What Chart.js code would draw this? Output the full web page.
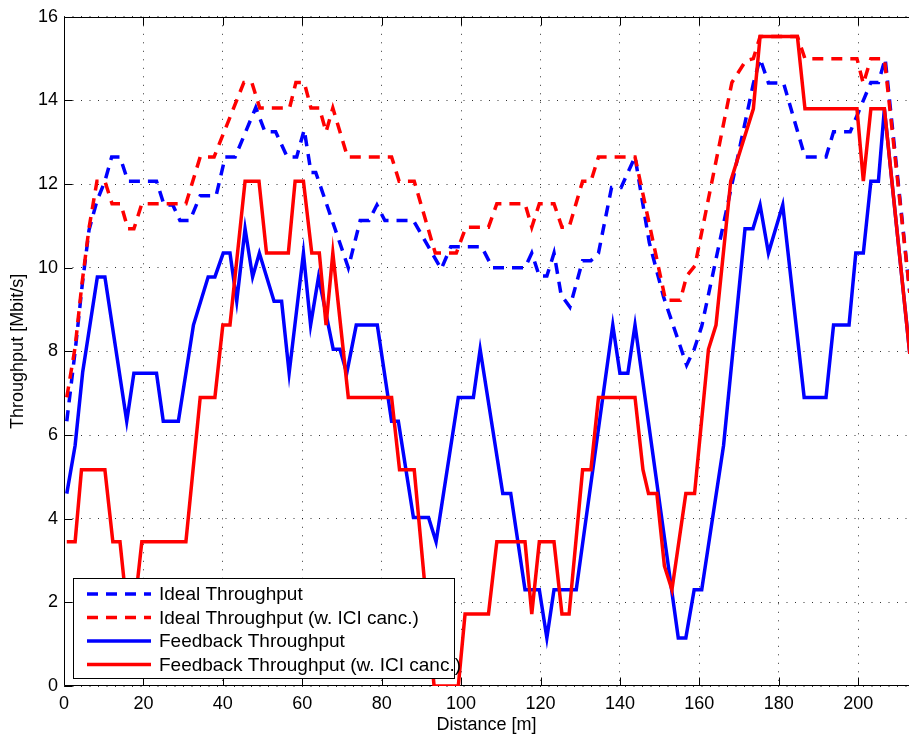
<!DOCTYPE html>
<html>
<head>
<meta charset="utf-8">
<title>Throughput vs distance</title>
<script src="https://cdn.jsdelivr.net/npm/chart.js@4.4.1/dist/chart.umd.min.js"></script>
<style>
  html, body { margin: 0; padding: 0; background: #fff; }
</style>
</head>
<body>
<canvas id="chart" width="909" height="743"></canvas>
<script>
// Throughput over distance, 4 series

const X_MAX = 212.8;
const Y_MAX = 16;

// Ideal Throughput (blue, dashed)
const idealDist = [0.7, 2.8, 4.6, 6.3, 8.3, 10.3, 12.0, 14.1, 16.1, 23.3, 25.2, 27.4, 29.2, 31.7, 34.3, 38.3,
  40.6, 43.1, 48.3, 50.6, 53.3, 56.2, 58.6, 60.5, 62.2, 63.4, 71.6, 74.6, 76.8, 78.8, 80.8, 88.0, 95.0,
  97.4, 105.2, 107.9, 116.1, 117.8, 119.7, 121.6, 123.4, 125.2, 127.4, 130.6, 132.7, 134.6, 137.9, 140.3,
  143.8, 147.4, 151.0, 156.8, 158.7, 160.6, 173.6, 175.3, 177.4, 181.2, 186.6, 191.9, 193.8, 198.0, 203.2,
  205.1, 206.8, 213.0];
const idealTput = [6.33, 8.0, 9.6, 10.9, 11.6, 12.07, 12.65, 12.65, 12.07, 12.07, 11.5, 11.5, 11.13, 11.13, 11.72, 11.72,
  12.65, 12.65, 13.83, 13.25, 13.25, 12.65, 12.65, 13.3, 12.28, 12.28, 10.0, 11.13, 11.13, 11.5, 11.13, 11.13, 9.97,
  10.5, 10.5, 10.0, 10.0, 10.35, 9.8, 9.8, 10.35, 9.35, 9.06, 10.17, 10.17, 10.35, 11.92, 11.92,
  12.65, 10.6, 9.3, 7.67, 8.05, 8.6, 14.4, 15.0, 14.42, 14.42, 12.65, 12.65, 13.25, 13.25, 14.43,
  14.43, 15.0, 9.4];

// Ideal Throughput (w. ICI canc.) (red, dashed)
const idealIciDist = [0.7, 2.8, 4.5, 6.3, 8.3, 10.3, 12.1, 14.3, 16.1, 17.6, 19.6, 30.7, 34.3, 37.8, 45.3, 47.3,
  49.3, 56.8, 58.4, 60.5, 62.2, 64.3, 66.0, 67.7, 71.4, 82.5, 84.4, 88.2, 93.5, 98.8, 101.2, 106.9, 109.0,
  116.1, 117.8, 119.7, 123.4, 125.4, 127.2, 130.6, 132.7, 134.6, 143.8, 151.5, 155.2, 156.8, 158.9, 168.2,
  171.7, 173.6, 175.3, 184.7, 186.6, 199.7, 201.3, 203.2, 206.6, 213.0];
const idealIciTput = [6.9, 8.1, 9.6, 10.95, 12.07, 12.07, 11.53, 11.53, 10.93, 10.93, 11.53, 11.53, 12.65, 12.65, 14.43, 14.43,
  13.82, 13.82, 14.43, 14.43, 13.82, 13.82, 13.25, 13.82, 12.65, 12.65, 12.07, 12.07, 10.35, 10.35, 10.97, 10.97, 11.53,
  11.53, 10.97, 11.53, 11.53, 10.97, 10.97, 12.07, 12.07, 12.65, 12.65, 9.22, 9.22, 9.8, 10.05, 14.43,
  14.95, 15.0, 15.53, 15.53, 15.0, 15.0, 14.4, 15.0, 15.0, 9.4];

// Feedback Throughput (blue, solid)
const fbDist = [0.7, 2.8, 4.7, 8.4, 10.3, 15.8, 17.6, 23.3, 25.0, 28.8, 32.6, 36.3, 38.0, 40.1, 41.8, 43.5,
  45.6, 47.5, 49.2, 52.9, 54.8, 56.7, 60.3, 62.1, 64.1, 67.8, 69.5, 71.2, 73.6, 78.9, 82.5, 84.2, 88.0,
  91.8, 93.7, 99.3, 103.1, 104.8, 110.5, 112.5, 116.1, 119.7, 121.6, 123.4, 129.0, 138.2, 140.0, 142.0,
  143.8, 154.7, 156.6, 158.7, 160.6, 166.1, 171.5, 173.5, 175.3, 177.4, 181.0, 186.4, 191.9, 193.8, 197.7,
  199.4, 201.3, 203.2, 205.1, 206.6, 213.0];
const fbTput = [4.6, 5.75, 7.5, 9.78, 9.78, 6.33, 7.48, 7.48, 6.33, 6.33, 8.63, 9.78, 9.78, 10.35, 10.35, 9.2,
  10.93, 9.78, 10.35, 9.2, 9.2, 7.48, 10.35, 8.63, 9.78, 8.05, 8.05, 7.48, 8.63, 8.63, 6.33, 6.33, 4.03,
  4.03, 3.45, 6.9, 6.9, 8.05, 4.6, 4.6, 2.3, 2.3, 1.15, 2.3, 2.3, 8.63, 7.48, 7.48,
  8.63, 1.15, 1.15, 2.3, 2.3, 5.75, 10.93, 10.93, 11.5, 10.35, 11.5, 6.9, 6.9, 8.63, 8.63,
  10.35, 10.35, 12.07, 12.07, 13.8, 7.94];

// Feedback Throughput (w. ICI canc.) (red, solid)
const fbIciDist = [0.7, 2.8, 4.4, 10.3, 12.3, 14.1, 16.0, 17.6, 19.6, 30.7, 34.3, 38.0, 40.0, 41.8, 45.6, 49.1,
  51.0, 56.5, 58.2, 60.3, 62.4, 64.3, 66.0, 67.7, 71.6, 82.5, 84.5, 88.2, 93.2, 99.3, 101.0, 106.9, 109.0,
  116.1, 117.8, 119.7, 123.4, 125.4, 127.2, 130.6, 132.7, 134.6, 143.8, 145.8, 147.2, 149.3, 151.2, 153.1,
  156.6, 158.8, 162.3, 164.2, 167.9, 173.6, 175.3, 184.7, 186.6, 199.7, 201.3, 203.2, 206.6, 213.0];
const fbIciTput = [3.45, 3.45, 5.17, 5.17, 3.45, 3.45, 1.72, 1.72, 3.45, 3.45, 6.9, 6.9, 8.63, 8.63, 12.07, 12.07,
  10.35, 10.35, 12.07, 12.07, 10.35, 10.35, 8.63, 10.35, 6.9, 6.9, 5.17, 5.17, 0, 0, 1.72, 1.72, 3.45,
  3.45, 1.72, 3.45, 3.45, 1.72, 1.72, 5.17, 5.17, 6.9, 6.9, 5.17, 4.6, 4.6, 2.87, 2.3,
  4.6, 4.6, 8.05, 8.63, 12.07, 13.8, 15.53, 15.53, 13.8, 13.8, 12.07, 13.8, 13.8, 7.94];

const BLUE = "#0000ff";
const RED = "#ff0000";
const DASH = [11, 8];
const FONT_FAMILY = '"Liberation Sans", Arial, Helvetica, sans-serif';

function toPoints(xs, ys) {
  return xs.map((x, i) => ({ x, y: ys[i] }));
}

// MATLAB-like axes box with inward tick marks (drawn under the data)
const axesBox = {
  id: "axesBox",
  beforeDatasetsDraw(chart) {
    const { ctx, chartArea: a, scales: { x, y } } = chart;
    const L = Math.round(a.left) + 0.5, T = Math.round(a.top) + 0.5;
    const B = Math.round(a.bottom) - 0.5, R = Math.round(a.right) + 0.5;
    ctx.save();
    ctx.strokeStyle = "#000";
    ctx.lineWidth = 1;
    ctx.beginPath();
    ctx.moveTo(R, T); ctx.lineTo(L, T); ctx.lineTo(L, B); ctx.lineTo(R, B);
    x.ticks.forEach(t => {
      const px = Math.round(x.getPixelForValue(t.value)) + 0.5;
      ctx.moveTo(px, B); ctx.lineTo(px, B - 8);
      ctx.moveTo(px, T); ctx.lineTo(px, T + 8);
    });
    y.ticks.forEach(t => {
      const py = Math.round(y.getPixelForValue(t.value)) + 0.5;
      ctx.moveTo(L, py); ctx.lineTo(L + 8, py);
    });
    ctx.stroke();
    ctx.restore();
  },
};

// Legend box in the lower left corner, drawn on top of the lines
const boxLegend = {
  id: "boxLegend",
  afterDraw(chart) {
    const { ctx } = chart;
    const items = chart.data.datasets.slice().reverse();
    const left = 73.5, top = 578.5, w = 381, h = 100;
    ctx.save();
    ctx.fillStyle = "#fff";
    ctx.fillRect(left, top, w, h);
    ctx.strokeStyle = "#000";
    ctx.lineWidth = 1;
    ctx.strokeRect(left, top, w, h);
    ctx.font = "19px " + FONT_FAMILY;
    ctx.textBaseline = "middle";
    ctx.fillStyle = "#000";
    items.forEach((ds, i) => {
      const cy = 594 + i * 23.5;
      ctx.beginPath();
      ctx.strokeStyle = ds.borderColor;
      ctx.lineWidth = ds.borderWidth;
      ctx.setLineDash(ds.borderDash || []);
      ctx.moveTo(87, cy);
      ctx.lineTo(151, cy);
      ctx.stroke();
      ctx.setLineDash([]);
      ctx.fillText(ds.label, 159, cy + 1);
    });
    ctx.restore();
  },
};

Chart.defaults.font.family = FONT_FAMILY;
Chart.defaults.font.size = 18;
Chart.defaults.color = "#000";

const lineStyle = { borderWidth: 3.5, pointRadius: 0, tension: 0, fill: false };

new Chart(document.getElementById("chart"), {
  type: "line",
  data: {
    // listed back to front: the first dataset is painted last
    datasets: [
      { label: "Feedback Throughput (w. ICI canc.)", data: toPoints(fbIciDist, fbIciTput), borderColor: RED, ...lineStyle },
      { label: "Feedback Throughput", data: toPoints(fbDist, fbTput), borderColor: BLUE, ...lineStyle },
      { label: "Ideal Throughput (w. ICI canc.)", data: toPoints(idealIciDist, idealIciTput), borderColor: RED, borderDash: DASH, ...lineStyle },
      { label: "Ideal Throughput", data: toPoints(idealDist, idealTput), borderColor: BLUE, borderDash: DASH, ...lineStyle },
    ],
  },
  options: {
    responsive: false,
    devicePixelRatio: 1,
    animation: false,
    layout: { padding: { top: 16, right: 0, left: 0, bottom: 0 } },
    plugins: { legend: { display: false }, tooltip: { enabled: false } },
    scales: {
      x: {
        type: "linear",
        min: 0,
        max: X_MAX,
        afterFit: s => { s.height = 57; },
        ticks: { stepSize: 20, includeBounds: false, padding: 7, maxRotation: 0 },
        grid: { color: "rgba(0,0,0,0.8)", lineWidth: 1, drawTicks: false },
        border: { display: false, dash: [1, 7.5] },
        title: { display: true, text: "Distance [m]", padding: { top: 0, bottom: 7 } },
      },
      y: {
        min: 0,
        max: Y_MAX,
        afterFit: s => { s.width = 64; },
        ticks: { stepSize: 2, padding: 6 },
        grid: { color: "rgba(0,0,0,0.8)", lineWidth: 1, drawTicks: false },
        border: { display: false, dash: [1, 7.5] },
        title: { display: true, text: "Throughput [Mbit/s]", padding: { top: 7, bottom: 0 } },
      },
    },
  },
  plugins: [axesBox, boxLegend],
});
</script>
</body>
</html>
